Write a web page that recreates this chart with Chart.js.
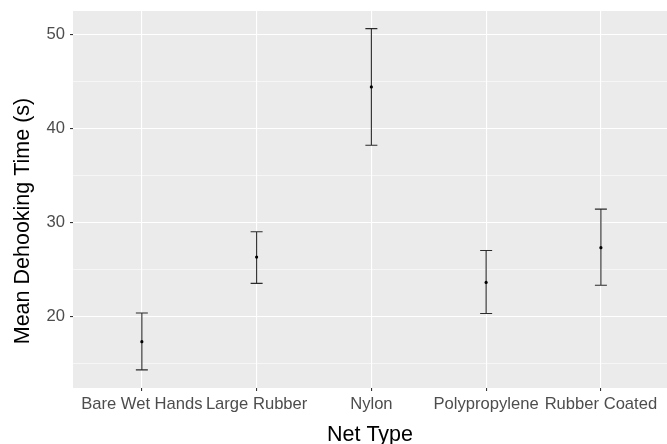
<!DOCTYPE html>
<html>
<head>
<meta charset="utf-8">
<script src="https://cdn.jsdelivr.net/npm/chart.js@4.4.1/dist/chart.umd.min.js"></script>
<style>
  html, body { margin: 0; padding: 0; background: #fff; }
  #c { display: block; }
</style>
</head>
<body>
<canvas id="c" width="667" height="444"></canvas>
<script>
// data
var netTypes = ['Bare Wet Hands', 'Large Rubber', 'Nylon', 'Polypropylene', 'Rubber Coated'];
var meanTime = [17.3, 26.3, 44.4, 23.6, 27.3];
var lowerCI  = [14.3, 23.5, 38.2, 20.3, 23.3];
var upperCI  = [20.35, 29.0, 50.6, 27.0, 31.4];
var yMajor = [20, 30, 40, 50];
var yMinor = [15, 25, 35, 45];
var yTitle = 'Mean Dehooking Time (s)';

var fontFamily = '"Liberation Sans", Arial, sans-serif';

var panelBg = {
  id: 'panelBg',
  beforeDraw: function(chart) {
    var a = chart.chartArea, ctx = chart.ctx;
    ctx.save();
    ctx.fillStyle = '#EBEBEB';
    ctx.fillRect(a.left, a.top, a.right - a.left, a.bottom - a.top);
    ctx.restore();
  }
};

var errorBars = {
  id: 'errorBars',
  beforeDatasetsDraw: function(chart) {
    var xs = chart.scales.x, ys = chart.scales.y, ctx = chart.ctx;
    ctx.save();
    ctx.strokeStyle = '#2b2b2b';
    ctx.lineWidth = 1.1;
    for (var i = 0; i < netTypes.length; i++) {
      var x = xs.getPixelForValue(i + 1);
      var lo = ys.getPixelForValue(lowerCI[i]);
      var hi = ys.getPixelForValue(upperCI[i]);
      ctx.beginPath();
      ctx.moveTo(x, lo); ctx.lineTo(x, hi);
      ctx.moveTo(x - 6, lo); ctx.lineTo(x + 6, lo);
      ctx.moveTo(x - 6, hi); ctx.lineTo(x + 6, hi);
      ctx.stroke();
    }
    ctx.restore();
  }
};

// y title sits a bit below the panel centre in the original, so draw it by hand
var yTitlePlugin = {
  id: 'yTitlePlugin',
  afterDraw: function(chart) {
    var ctx = chart.ctx;
    ctx.save();
    ctx.translate(23, 221);
    ctx.rotate(-Math.PI / 2);
    ctx.font = '21.5px ' + fontFamily;
    ctx.fillStyle = '#000';
    ctx.textAlign = 'center';
    ctx.textBaseline = 'middle';
    ctx.fillText(yTitle, 0, 0);
    ctx.restore();
  }
};

var tickFont = { family: fontFamily, size: 16.6 };
var titleFont = { family: fontFamily, size: 21.5, lineHeight: 0.8 };

var config = {
  type: 'scatter',
  data: {
    datasets: [{
      data: meanTime.map(function(v, i) { return { x: i + 1, y: v }; }),
      backgroundColor: '#000',
      borderWidth: 0,
      pointRadius: 1.6
    }]
  },
  options: {
    responsive: false,
    animation: false,
    devicePixelRatio: 1,
    layout: { autoPadding: false, padding: { top: 11, right: 0, left: 0, bottom: 0 } },
    plugins: { legend: { display: false }, tooltip: { enabled: false } },
    scales: {
      x: {
        type: 'linear',
        min: 0.4,
        max: 5.576,
        afterBuildTicks: function(s) {
          s.ticks = netTypes.map(function(n, i) { return { value: i + 1 }; });
        },
        afterFit: function(s) {
          s.height = 56;
          s.paddingLeft = 0; s.paddingRight = 0;
        },
        border: { display: false },
        grid: { color: '#fff', lineWidth: 1.1, tickLength: 3, tickColor: '#333' },
        ticks: {
          color: '#4D4D4D', font: tickFont, padding: 3, maxRotation: 0, autoSkip: false,
          callback: function(v) { return netTypes[v - 1]; }
        },
        title: { display: true, text: 'Net Type', color: '#000', font: titleFont, padding: { top: 0, bottom: 0 } }
      },
      y: {
        type: 'linear',
        min: 12.37,
        max: 52.48,
        afterBuildTicks: function(s) {
          s.ticks = yMinor.concat(yMajor).sort(function(a, b) { return a - b; })
            .map(function(v) { return { value: v }; });
        },
        afterFit: function(s) {
          s.width = 73;
          s.paddingTop = 0; s.paddingBottom = 0;
        },
        border: { display: false },
        grid: {
          color: '#fff',
          lineWidth: function(c) { return yMajor.indexOf(c.tick.value) >= 0 ? 1.1 : 0.55; },
          tickLength: 3,
          tickColor: function(c) { return yMajor.indexOf(c.tick.value) >= 0 ? '#333' : 'rgba(0,0,0,0)'; }
        },
        ticks: {
          color: '#4D4D4D', font: tickFont, padding: 5, autoSkip: false,
          callback: function(v) { return yMajor.indexOf(v) >= 0 ? String(v) : ''; }
        },
        title: { display: false }
      }
    }
  },
  plugins: [panelBg, errorBars, yTitlePlugin]
};

window.onload = function() {
  var ctx = document.getElementById('c').getContext('2d');
  window.myChart = new Chart(ctx, config);
};
</script>
</body>
</html>
